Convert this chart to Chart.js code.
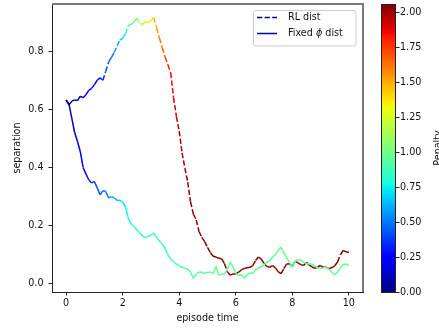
<!DOCTYPE html>
<html>
<head>
<meta charset="utf-8">
<script src="https://cdn.jsdelivr.net/npm/chart.js@4.4.1/dist/chart.umd.min.js"></script>
<style>
  html, body { margin: 0; padding: 0; background: #fff; }
  #wrap { width: 439px; height: 329px; }
</style>
</head>
<body>
<div id="wrap"><canvas id="grafik" width="439" height="329"></canvas></div>
<script>
// data
var episodeTime = [
  0.0, 0.1, 0.2, 0.3, 0.4, 0.5, 0.6, 0.7, 0.8, 0.9,
  1.0, 1.1, 1.2, 1.3, 1.4, 1.5, 1.6, 1.7, 1.8, 1.9,
  2.0, 2.1, 2.2, 2.3, 2.4, 2.5, 2.6, 2.7, 2.8, 2.9,
  3.0, 3.1, 3.2, 3.3, 3.4, 3.5, 3.6, 3.7, 3.8, 3.9,
  4.0, 4.1, 4.2, 4.3, 4.4, 4.5, 4.6, 4.7, 4.8, 4.9,
  5.0, 5.1, 5.2, 5.3, 5.4, 5.5, 5.6, 5.7, 5.8, 5.9,
  6.0, 6.1, 6.2, 6.3, 6.4, 6.5, 6.6, 6.7, 6.8, 6.9,
  7.0, 7.1, 7.2, 7.3, 7.4, 7.5, 7.6, 7.7, 7.8, 7.9,
  8.0, 8.1, 8.2, 8.3, 8.4, 8.5, 8.6, 8.7, 8.8, 8.9,
  9.0, 9.1, 9.2, 9.3, 9.4, 9.5, 9.6, 9.7, 9.8, 9.9,
  10.0
];

var rlDist = [
  0.632, 0.615, 0.628, 0.632, 0.630, 0.645, 0.640, 0.650, 0.665, 0.672,
  0.685, 0.700, 0.708, 0.700, 0.730, 0.762, 0.778, 0.795, 0.818, 0.838,
  0.845, 0.860, 0.888, 0.892, 0.900, 0.914, 0.895, 0.892, 0.902, 0.897,
  0.905, 0.915, 0.880, 0.845, 0.812, 0.780, 0.753, 0.725, 0.640, 0.575,
  0.525, 0.450, 0.398, 0.350, 0.282, 0.240, 0.220, 0.180, 0.160, 0.145,
  0.125, 0.108, 0.095, 0.092, 0.088, 0.086, 0.070, 0.042, 0.030, 0.034,
  0.034, 0.040, 0.048, 0.053, 0.055, 0.057, 0.063, 0.080, 0.092, 0.086,
  0.070, 0.060, 0.057, 0.063, 0.055, 0.042, 0.035, 0.052, 0.068, 0.069,
  0.060, 0.078, 0.072, 0.066, 0.063, 0.074, 0.064, 0.058, 0.053, 0.058,
  0.063, 0.057, 0.057, 0.052, 0.056, 0.062, 0.075, 0.100, 0.115, 0.110,
  0.108
];

var fixedDist = [
  0.632, 0.618, 0.570, 0.520, 0.490, 0.455, 0.400, 0.378, 0.358, 0.347,
  0.352, 0.330, 0.306, 0.320, 0.318, 0.295, 0.300, 0.296, 0.287, 0.287,
  0.282, 0.265, 0.225, 0.205, 0.198, 0.185, 0.175, 0.165, 0.158, 0.163,
  0.168, 0.174, 0.160, 0.147, 0.136, 0.122, 0.100, 0.085, 0.076, 0.068,
  0.062, 0.057, 0.054, 0.050, 0.040, 0.020, 0.034, 0.040, 0.040, 0.036,
  0.040, 0.040, 0.036, 0.058, 0.030, 0.034, 0.034, 0.050, 0.074, 0.060,
  0.036, 0.029, 0.032, 0.020, 0.030, 0.038, 0.036, 0.048, 0.054, 0.058,
  0.065, 0.074, 0.080, 0.092, 0.100, 0.115, 0.126, 0.108, 0.090, 0.074,
  0.058, 0.078, 0.082, 0.082, 0.074, 0.070, 0.068, 0.068, 0.060, 0.055,
  0.052, 0.055, 0.057, 0.050, 0.040, 0.032, 0.040, 0.054, 0.066, 0.068,
  0.063
];

var rlPenalty = [
  0.00, 0.04, 0.07, 0.09, 0.11, 0.13, 0.16, 0.19, 0.21, 0.23,
  0.25, 0.28, 0.31, 0.35, 0.40, 0.45, 0.50, 0.56, 0.62, 0.68,
  0.73, 0.80, 0.88, 0.96, 1.03, 1.10, 1.16, 1.22, 1.28, 1.33,
  1.40, 1.48, 1.56, 1.63, 1.69, 1.74, 1.80, 1.86, 1.92, 1.95,
  1.97, 1.99, 2.00, 2.01, 2.02, 2.02, 2.03, 2.03, 2.03, 2.04,
  2.04, 2.04, 2.04, 2.05, 2.05, 2.05, 2.05, 2.05, 2.05, 2.05,
  2.05, 2.05, 2.05, 2.05, 2.05, 2.05, 2.05, 2.05, 2.05, 2.05,
  2.05, 2.05, 2.05, 2.05, 2.05, 2.05, 2.05, 2.05, 2.05, 2.05,
  2.05, 2.05, 2.05, 2.05, 2.05, 2.05, 2.05, 2.05, 2.05, 2.05,
  2.05, 2.05, 2.05, 2.05, 2.05, 2.05, 2.05, 2.05, 2.05, 2.05,
  2.05
];

var fixedPenalty = [
  0.02, 0.06, 0.10, 0.14, 0.18, 0.21, 0.24, 0.28, 0.33, 0.37,
  0.41, 0.44, 0.47, 0.50, 0.53, 0.56, 0.59, 0.62, 0.66, 0.70,
  0.73, 0.77, 0.80, 0.82, 0.83, 0.84, 0.85, 0.85, 0.86, 0.86,
  0.87, 0.87, 0.88, 0.88, 0.89, 0.89, 0.90, 0.90, 0.91, 0.91,
  0.92, 0.92, 0.93, 0.93, 0.94, 0.94, 0.94, 0.95, 0.95, 0.95,
  0.95, 0.96, 0.96, 0.96, 0.96, 0.96, 0.97, 0.97, 0.97, 0.97,
  0.97, 0.97, 0.97, 0.97, 0.97, 0.97, 0.97, 0.97, 0.97, 0.97,
  0.97, 0.97, 0.97, 0.97, 0.97, 0.97, 0.97, 0.97, 0.97, 0.97,
  0.97, 0.97, 0.97, 0.97, 0.97, 0.97, 0.97, 0.97, 0.97, 0.97,
  0.97, 0.97, 0.97, 0.97, 0.97, 0.97, 0.97, 0.97, 0.97, 0.97,
  0.97
];

var xTicks = [0, 2, 4, 6, 8, 10];
var yTicks = [0.0, 0.2, 0.4, 0.6, 0.8];
var cbTicks = [0.00, 0.25, 0.50, 0.75, 1.00, 1.25, 1.50, 1.75, 2.00];
var penaltyMax = 2.06;

// jet colormap
var jetR = [[0, 0], [0.35, 0], [0.66, 1], [0.89, 1], [1, 0.5]];
var jetG = [[0, 0], [0.125, 0], [0.375, 1], [0.64, 1], [0.91, 0], [1, 0]];
var jetB = [[0, 0.5], [0.11, 1], [0.34, 1], [0.65, 0], [1, 0]];

function lerpStops(stops, x) {
  for (var i = 1; i < stops.length; i++) {
    if (x <= stops[i][0]) {
      var a = stops[i - 1], b = stops[i];
      return a[1] + (b[1] - a[1]) * (x - a[0]) / (b[0] - a[0]);
    }
  }
  return stops[stops.length - 1][1];
}

function jet(x) {
  x = Math.min(1, Math.max(0, x));
  return 'rgb(' + Math.round(lerpStops(jetR, x) * 255) + ',' +
    Math.round(lerpStops(jetG, x) * 255) + ',' +
    Math.round(lerpStops(jetB, x) * 255) + ')';
}

function penaltyColor(p) {
  return jet(p / penaltyMax);
}

// drop the label overflow padding so the plot box sits where matplotlib put it
function noPad(s) {
  s.paddingTop = 0;
  s.paddingBottom = 0;
  s.paddingLeft = 0;
  s.paddingRight = 0;
}

var fontFam = 'DejaVu Sans';
var fontSize = 9.6;
Chart.defaults.font.family = fontFam;
Chart.defaults.font.size = fontSize;
Chart.defaults.color = '#111';

var extras = {
  id: 'extras',
  afterDatasetsDraw: function (chart) {
    var ctx = chart.ctx;
    var a = chart.chartArea;
    ctx.save();

    // spines
    ctx.fillStyle = '#222';
    ctx.fillRect(a.left, a.top, 1, a.bottom - a.top + 1);
    ctx.fillRect(a.left, a.bottom, a.right - a.left + 1, 1);
    ctx.fillStyle = '#7a7a7a';
    ctx.fillRect(a.left, a.top - 1, a.right - a.left + 1, 2);
    ctx.fillRect(a.right - 1, a.top - 1, 2, a.bottom - a.top + 1);

    // colorbar
    var cb = chart.scales.cb;
    var cx0 = 381, cx1 = 396;
    var grad = ctx.createLinearGradient(0, a.bottom, 0, a.top);
    var stops = [0, 0.11, 0.125, 0.34, 0.35, 0.375, 0.64, 0.65, 0.66, 0.89, 0.91, 1];
    stops.forEach(function (s) { grad.addColorStop(s, jet(s)); });
    ctx.fillStyle = grad;
    ctx.fillRect(cx0, a.top, cx1 - cx0, a.bottom - a.top);
    ctx.strokeStyle = '#222';
    ctx.lineWidth = 1;
    ctx.strokeRect(cx0 + 0.5, a.top + 0.5, cx1 - cx0 - 1, a.bottom - a.top);
    ctx.beginPath();
    cbTicks.forEach(function (v) {
      var y = Math.round(cb.getPixelForValue(v)) + 0.5;
      ctx.moveTo(cx1 - 0.5, y);
      ctx.lineTo(cx1 + 3.5, y);
    });
    ctx.stroke();

    // colorbar label
    ctx.fillStyle = '#111';
    ctx.font = fontSize + 'px "' + fontFam + '"';
    ctx.save();
    ctx.translate(441, (a.top + a.bottom) / 2);
    ctx.rotate(-Math.PI / 2);
    ctx.textAlign = 'center';
    ctx.textBaseline = 'alphabetic';
    ctx.fillText('Penalty', 0, 0);
    ctx.restore();

    // axis titles
    ctx.textAlign = 'center';
    ctx.textBaseline = 'middle';
    ctx.fillText('episode time', (a.left + a.right) / 2, 318);
    ctx.save();
    ctx.translate(17, (a.top + a.bottom) / 2);
    ctx.rotate(-Math.PI / 2);
    ctx.fillText('separation', 0, 0);
    ctx.restore();

    // legend
    var lx = 253.5, ly = 10.5, lw = 102.5, lh = 35.5;
    ctx.globalAlpha = 0.8;
    ctx.fillStyle = '#fff';
    ctx.beginPath();
    ctx.roundRect(lx, ly, lw, lh, 2);
    ctx.fill();
    ctx.globalAlpha = 1;
    ctx.strokeStyle = '#cccccc';
    ctx.stroke();

    var legendColor = '#00009a';
    ctx.strokeStyle = legendColor;
    ctx.lineWidth = 1.5;
    ctx.setLineDash([5.3, 2.3]);
    ctx.beginPath();
    ctx.moveTo(257, 17.5);
    ctx.lineTo(277, 17.5);
    ctx.stroke();
    ctx.setLineDash([]);
    ctx.beginPath();
    ctx.moveTo(257, 33.5);
    ctx.lineTo(277, 33.5);
    ctx.stroke();

    ctx.fillStyle = '#111';
    ctx.textAlign = 'left';
    ctx.textBaseline = 'middle';
    ctx.fillText('RL dist', 288, 17.5);
    var tx = 288;
    ctx.fillText('Fixed ', tx, 33.5);
    tx += ctx.measureText('Fixed ').width;
    ctx.font = 'italic ' + fontSize + 'px "' + fontFam + '"';
    ctx.fillText('\u03d5', tx, 33.5);
    tx += ctx.measureText('\u03d5').width;
    ctx.font = fontSize + 'px "' + fontFam + '"';
    ctx.fillText(' dist', tx, 33.5);

    ctx.restore();
  }
};

var ctx = document.getElementById('grafik').getContext('2d');
var chart = new Chart(ctx, {
  type: 'line',
  data: {
    datasets: [{
      label: 'RL dist',
      data: episodeTime.map(function (t, i) { return { x: t, y: rlDist[i] }; }),
      borderWidth: 1.5,
      borderDash: [5.3, 2.3],
      pointRadius: 0,
      tension: 0,
      order: 2,
      segment: {
        borderColor: function (c) { return penaltyColor(rlPenalty[c.p0DataIndex]); },
        // restart the dash pattern on every segment, like a LineCollection
        borderDashOffset: function (c) { return (c.p0DataIndex % 2) * 0.01; }
      }
    }, {
      label: 'Fixed \u03d5 dist',
      data: episodeTime.map(function (t, i) { return { x: t, y: fixedDist[i] }; }),
      borderWidth: 1.5,
      pointRadius: 0,
      tension: 0,
      order: 1,
      segment: {
        borderColor: function (c) { return penaltyColor(fixedPenalty[c.p0DataIndex]); }
      }
    }]
  },
  options: {
    responsive: false,
    animation: false,
    devicePixelRatio: 1,
    layout: { padding: { top: 4, left: 0, right: 0, bottom: 0 } },
    plugins: { legend: { display: false }, tooltip: { enabled: false } },
    scales: {
      x: {
        type: 'linear',
        min: -0.5,
        max: 10.5,
        afterBuildTicks: function (s) { s.ticks = xTicks.map(function (v) { return { value: v }; }); },
        afterFit: function (s) { s.height = 37; noPad(s); },
        ticks: {
          padding: 2,
          maxRotation: 0,
          autoSkip: false,
          callback: function (v) { return String(v); }
        },
        grid: { drawOnChartArea: false, tickLength: 3.5, tickColor: '#222' },
        border: { display: false }
      },
      y: {
        type: 'linear',
        position: 'left',
        min: -0.028,
        max: 0.962,
        afterBuildTicks: function (s) { s.ticks = yTicks.map(function (v) { return { value: v }; }); },
        afterFit: function (s) { s.width = 52; noPad(s); },
        ticks: {
          padding: 5,
          autoSkip: false,
          callback: function (v) { return v.toFixed(1); }
        },
        grid: { drawOnChartArea: false, tickLength: 3.5, tickColor: '#222' },
        border: { display: false }
      },
      cb: {
        type: 'linear',
        position: 'right',
        min: 0,
        max: penaltyMax,
        afterBuildTicks: function (s) { s.ticks = cbTicks.map(function (v) { return { value: v }; }); },
        afterFit: function (s) { s.width = 76; noPad(s); },
        ticks: {
          padding: 0,
          autoSkip: false,
          callback: function (v) { return v.toFixed(2); }
        },
        grid: { drawOnChartArea: false, tickLength: 37, tickColor: 'rgba(0,0,0,0)' },
        border: { display: false }
      }
    }
  },
  plugins: [extras]
});
</script>
</body>
</html>
